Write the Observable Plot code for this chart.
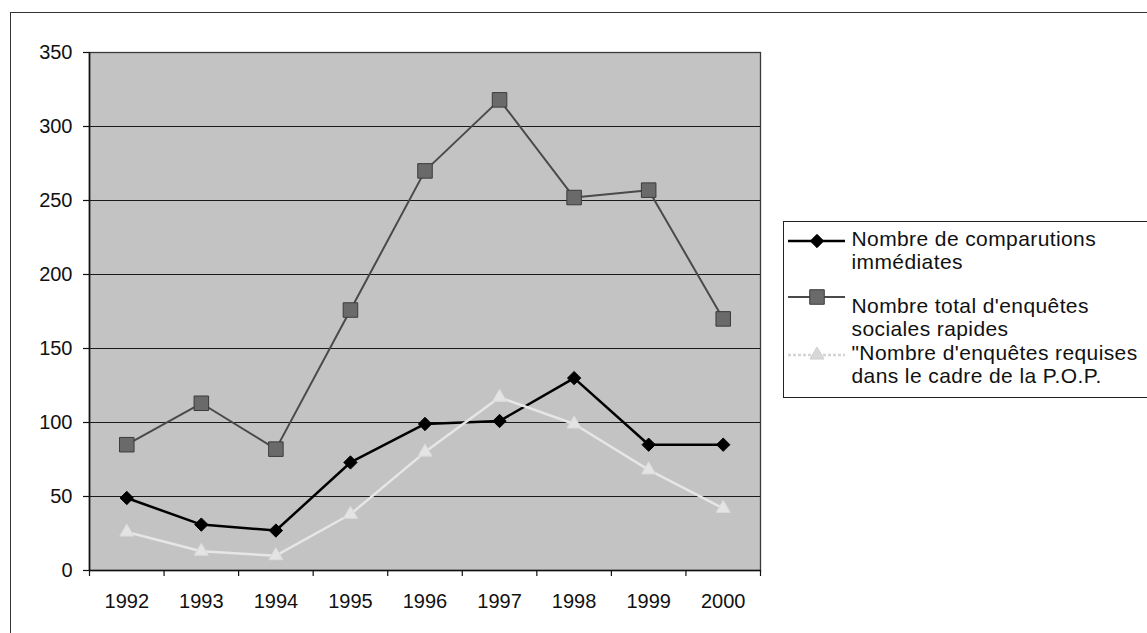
<!DOCTYPE html>
<html>
<head>
<meta charset="utf-8">
<script src="https://cdn.jsdelivr.net/npm/d3@7"></script>
<script src="https://cdn.jsdelivr.net/npm/@observablehq/plot@0.6"></script>
<style>
  body { margin: 0; background: #fff; font-family: "Liberation Sans", Arial, sans-serif; }
  #wrap { position: relative; width: 1147px; height: 633px; overflow: hidden; background: #fff; }
  #frame { position: absolute; left: 10px; top: 12px; width: 1300px; height: 800px; border: 1.5px solid #333; box-sizing: border-box; }
  #chart { position: absolute; left: 0; top: 0; }
  #legend { position: absolute; left: 783px; top: 221px; width: 420px; height: 177px; border: 1.5px solid #222; background: #fff; box-sizing: border-box; }
  .sym { position: absolute; left: 3.5px; }
  .txt { position: absolute; left: 67.5px; font-size: 21px; line-height: 23.5px; letter-spacing: 0.4px; color: #111; white-space: nowrap; }
</style>
</head>
<body>
<div id="wrap">
  <div id="frame"></div>
  <div id="chart"></div>
  <div id="legend"></div>
</div>
<script>
// ---- Data ----
const years = [1992, 1993, 1994, 1995, 1996, 1997, 1998, 1999, 2000];
const comparutions = [49, 31, 27, 73, 99, 101, 130, 85, 85];
const enquetesTotal = [85, 113, 82, 176, 270, 318, 252, 257, 170];
const enquetesPOP = [26, 13, 10, 38, 80, 117, 99, 68, 42];
const yTicks = [0, 50, 100, 150, 200, 250, 300, 350];
const seriesNames = [
  ["Nombre de comparutions", "immédiates"],
  ["Nombre total d'enquêtes", "sociales rapides"],
  ["\"Nombre d'enquêtes requises", "dans le cadre de la P.O.P."]
];

// ---- Styles ----
const styles = [
  { line: "#000000", lineWidth: 2.5, symbol: "diamond2", r: 6, fill: "#000000", stroke: "#000000" },
  { line: "#4a4a4a", lineWidth: 2, symbol: "square", r: 8.2, fill: "#6a6a6a", stroke: "#3c3c3c" },
  { line: "#e6e6e6", lineWidth: 2.5, symbol: "triangle", r: 5.2, fill: "#e4e4e4", stroke: "#dadada" }
];
const seriesValues = [comparutions, enquetesTotal, enquetesPOP];

const rows = seriesValues.map((vals, s) => years.map((yr, i) => ({ year: yr, value: vals[i], s })));

const x0 = years[0] - 0.5;
const x1 = years[years.length - 1] + 0.5;
const boundaries = years.map(y => y - 0.5).concat([x1]);

const seriesMarks = rows.flatMap((data, s) => {
  const st = styles[s];
  return [
    Plot.line(data, { x: "year", y: "value", stroke: st.line, strokeWidth: st.lineWidth, curve: "linear" }),
    Plot.dot(data, { x: "year", y: "value", symbol: () => st.symbol, r: st.r, fill: st.fill, stroke: st.stroke, strokeWidth: 1 })
  ];
});

const chart = Plot.plot({
  width: 1147,
  height: 633,
  marginLeft: 89,
  marginRight: 387,
  marginTop: 52,
  marginBottom: 63,
  style: { fontFamily: "Liberation Sans, Arial, sans-serif", fontSize: "20px", color: "#111", background: "transparent", overflow: "visible" },
  x: { domain: [x0, x1], label: null },
  y: { domain: [0, 350], label: null },
  symbol: { type: "identity" },
  marks: [
    Plot.frame({ fill: "#c3c3c3", stroke: "none" }),
    Plot.gridY(yTicks.filter(v => v > 0 && v < 350), { stroke: "#1a1a1a", strokeOpacity: 1, strokeWidth: 1.2 }),
    Plot.frame({ stroke: "#3a3a3a", strokeWidth: 1.3 }),
    Plot.axisY(yTicks, { tickSize: 6, tickPadding: 11, stroke: "#111", strokeWidth: 1.2, fill: "#111", fontSize: 20 }),
    Plot.axisX(boundaries, { tickSize: 6, tickFormat: () => "", stroke: "#111", strokeWidth: 1.2 }),
    Plot.axisX(years, { tickSize: 0, tickPadding: 23, tickFormat: d => String(d), fill: "#111", fontSize: 20 }),
    Plot.ruleX([x0], { stroke: "#111", strokeWidth: 1.6 }),
    Plot.ruleY([0], { stroke: "#111", strokeWidth: 1.6 }),
    ...seriesMarks
  ]
});
document.getElementById("chart").appendChild(chart);

// ---- Legend ----
const legend = document.getElementById("legend");
const symTops = [10.5, 66.5, 124.5];
const txtTops = [4.5, 71.5, 118.5];
const symbolTypes = { diamond2: d3.symbolDiamond2, square: d3.symbolSquare, triangle: d3.symbolTriangle };
styles.forEach((st, i) => {
  const svg = d3.create("svg").attr("class", "sym").attr("width", 57).attr("height", 16)
    .style("top", symTops[i] + "px");
  svg.append("line").attr("x1", 0).attr("x2", 57).attr("y1", 8).attr("y2", 8)
    .attr("stroke", i === 2 ? "#d4d4d4" : st.line).attr("stroke-width", st.lineWidth)
    .attr("stroke-dasharray", i === 2 ? "3,2" : null);
  svg.append("path").attr("transform", "translate(29,8)")
    .attr("d", d3.symbol(symbolTypes[st.symbol], st.r * st.r * Math.PI)())
    .attr("fill", i === 2 ? "#d8d8d8" : st.fill).attr("stroke", i === 2 ? "#cfcfcf" : st.stroke);
  legend.appendChild(svg.node());
  const div = document.createElement("div");
  div.className = "txt";
  div.style.top = txtTops[i] + "px";
  div.innerHTML = seriesNames[i].map(t => t.replace(/&/g, "&amp;").replace(/</g, "&lt;")).join("<br>");
  legend.appendChild(div);
});
</script>
</body>
</html>
